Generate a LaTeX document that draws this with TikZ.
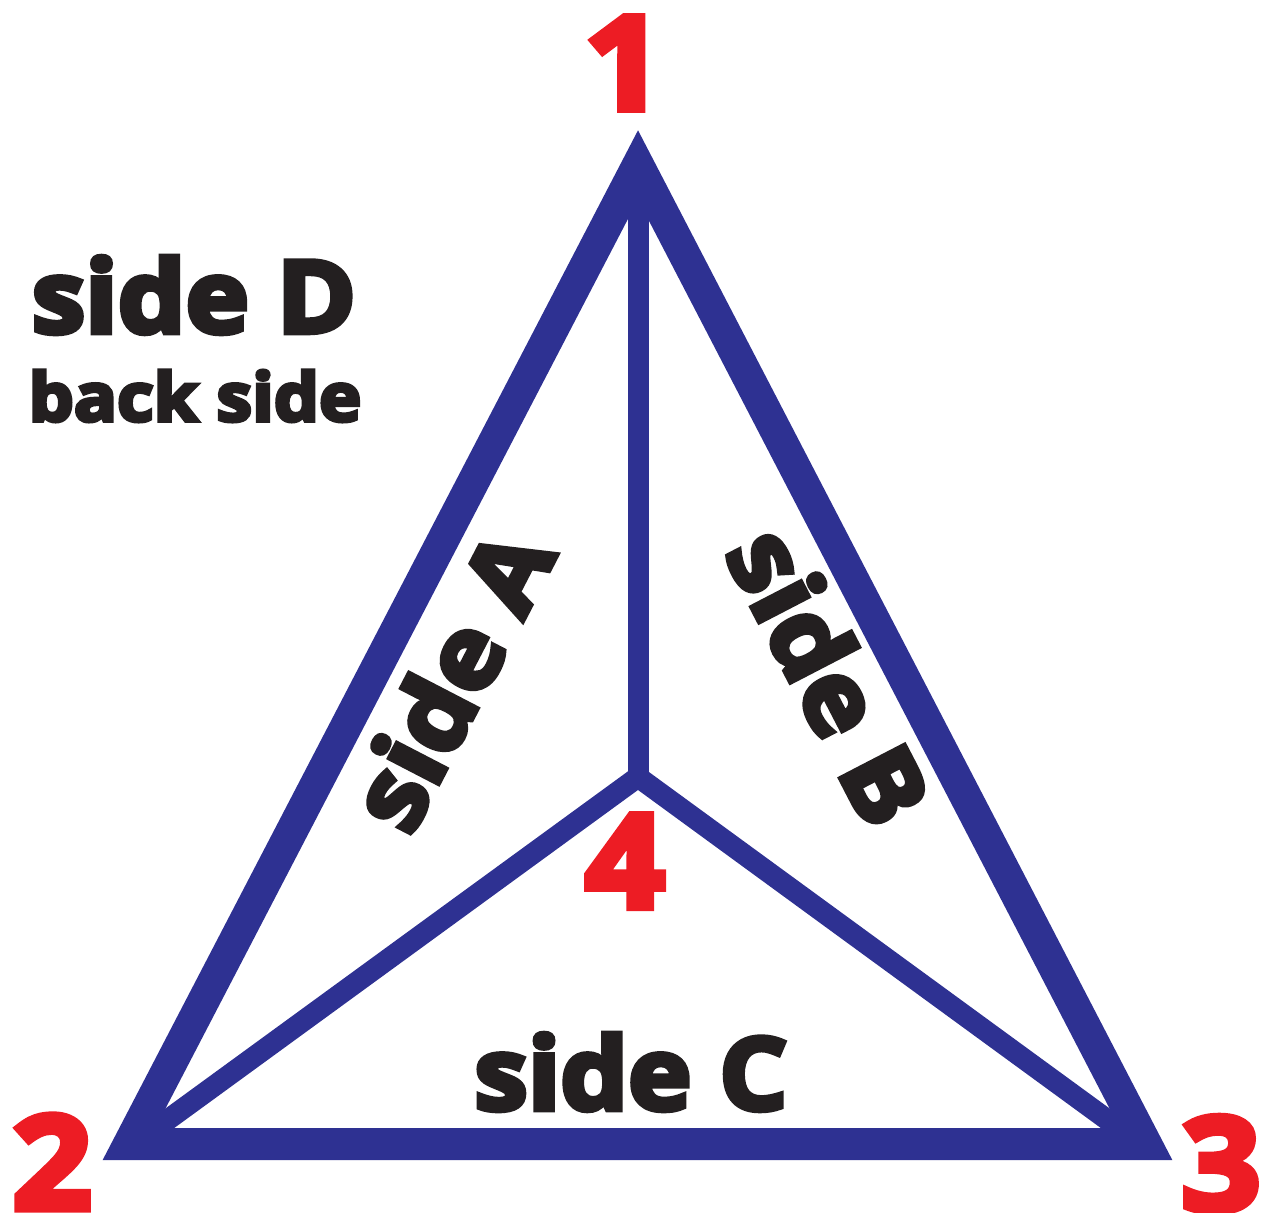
\documentclass[tikz,border=0pt]{standalone}
\usepackage{fontspec}
\usepackage{xcolor}
\usepackage{tikz}
\setmainfont{Liberation Sans}
\newfontfamily\heavyfont[FakeBold=5.5,FakeStretch=1.07]{Open Sans Bold}
\definecolor{edgeblue}{HTML}{2E3192}
\definecolor{numred}{HTML}{ED1C24}
\definecolor{sideink}{HTML}{231F20}
\begin{document}
\begin{tikzpicture}[x=0.02cm,y=-0.02cm,
  num/.style={text=numred,font=\heavyfont\fontsize{74}{74}\selectfont,inner sep=0pt},
  lab/.style={text=sideink,font=\heavyfont\fontsize{57}{57}\selectfont,inner sep=0pt},
  sub/.style={text=sideink,font=\heavyfont\fontsize{38}{38}\selectfont,inner sep=0pt},
  outer/.style={draw=edgeblue,line width=0.64cm,miter limit=10},
  inner/.style={draw=edgeblue,line width=0.42cm}]
 \useasboundingbox (0,0) rectangle (1261,1213);
 % ---- corners ----
 \coordinate (c1) at (638,165);
 \coordinate (c2) at (129,1144);
 \coordinate (c3) at (1146,1144);
 \coordinate (c4) at (638,777);
 \coordinate (d2) at (129,1148);
 \coordinate (d3) at (1146,1148);
 % ---- edges ----
 \draw[inner] (c1)--(c4);
 \draw[inner] (d2)--(c4)--(d3);
 \draw[outer] (c1)--(c2)--(c3)--cycle;
 % ---- numbers ----
 \node[num] (n1) at (624,63) {1};
 \node[num] (n2) at (52,1162) {2};
 \node[num] (n3) at (1221,1164) {3};
 \node[num] (n4) at (625,861) {4};
 % ---- sides ----
 \node[lab,rotate=62.6] (sa) at (450,679) {side A};
 \node[lab,rotate=-62.6] (sb) at (830,676) {side B};
 \node[lab] (sc) at (631,1072) {side C};
 \node[lab] (sd) at (194,295) {side D};
 \node[sub] (bs) at (195,396) {back side};
\end{tikzpicture}
\end{document}
